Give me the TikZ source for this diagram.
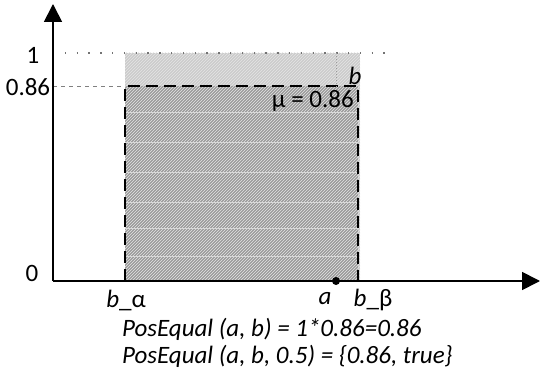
\documentclass[tikz,border=0pt]{standalone}
\usepackage{fontspec}
\setmainfont{Carlito}
\usetikzlibrary{
arrows.meta,
positioning,
patterns
}
\definecolor{lightbar}{HTML}{CBCBCB}
\definecolor{darkbar}{HTML}{9A9A9A}

\begin{document}
\begin{tikzpicture}[
x=1pt, y=-1pt,
axis/.style={
line width=1.7pt,
-{Triangle[length=18pt,width=18pt]}
},
guide/.style={
gray!90!black, line width=1.3pt,
dash pattern=on 1.3pt off 10.5pt
},
lbl/.style={
inner sep=0pt,
font=\fontsize{25}{28}\selectfont
},
formula/.style={
inner sep=0pt, anchor=west,
font=\fontsize{25}{28}\selectfont\itshape
}
]

\useasboundingbox (0,0) rectangle (543,374);

% axes
\coordinate (origin) at (53,281);
\coordinate (ytip) at (53,4);
\coordinate (xtip) at (540,281);

% possibility bar of b
\fill[lightbar] (125,53) rectangle (360,281);
\fill[darkbar] (125,86) rectangle (358,281);
\fill[pattern=north east lines, pattern color=white!80!gray] (125,53) rectangle (360,281);
\foreach \yy in {112,142,172,202,228,256}
  \draw[white!70!gray, line width=0.6pt] (125,\yy) -- (358,\yy);
\draw[line width=1.6pt, dash pattern=on 12pt off 6pt]
  (125,281) -- (125,86) -- (358,86) -- (358,281);

% guide lines
\draw[guide] (origin |- 0,53) -- (395,53);
\draw[gray, line width=0.6pt, dash pattern=on 4pt off 4pt] (origin |- 0,86) -- (125,86);
\draw[gray!80, line width=0.8pt, dash pattern=on 1pt off 2pt] (336,53) -- (336,281);

\draw[axis] (origin) -- (ytip);
\draw[axis] (origin) -- (xtip);

% point a
\fill (336,281) circle (4pt);

% labels
\node[lbl] (one) at (33,55) {1};
\node[lbl] (mu86) at (28,87) {0.86};
\node[lbl] (zero) at (32,273) {0};
\node[lbl, font=\fontsize{25}{28}\selectfont\itshape] (bname) at (355,76) {b};
\node[lbl, anchor=east] (muval) at (354,101) {μ = 0.86};
\node[lbl] (balpha) at (126,300) {\textit{b}\_α};
\node[lbl, font=\fontsize{25}{28}\selectfont\itshape] (aname) at (325,299) {a};
\node[lbl] (bbeta) at (373,300) {\textit{b}\_β};

\node[formula] (posab) at (122,329) {PosEqual (a, b) = 1*0.86=0.86};
\node[formula] (posabt) at (122,356) {PosEqual (a, b, 0.5) = \{0.86, true\}};

\end{tikzpicture}
\end{document}
